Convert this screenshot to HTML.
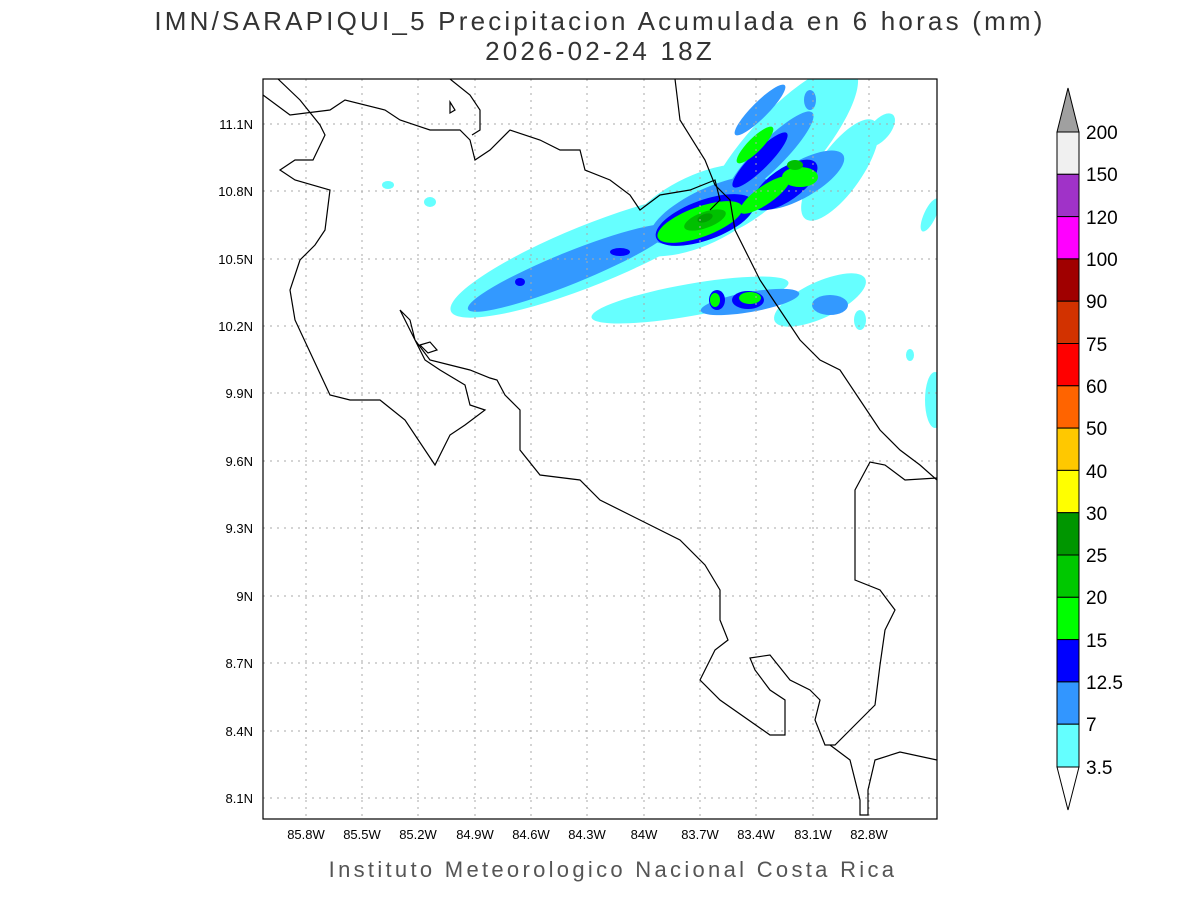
<!DOCTYPE html>
<html><head><meta charset="utf-8"><style>
body{margin:0;background:#fff;width:1200px;height:900px;overflow:hidden;font-family:"Liberation Sans",sans-serif}
</style></head><body>
<svg width="1200" height="900" xmlns="http://www.w3.org/2000/svg" font-family="Liberation Sans, sans-serif">
<rect width="1200" height="900" fill="#fff"/>
<text x="600" y="30" font-size="26" text-anchor="middle" fill="#333" letter-spacing="3.2">IMN/SARAPIQUI_5 Precipitacion Acumulada en 6 horas (mm)</text>
<text x="600" y="60" font-size="26" text-anchor="middle" fill="#333" letter-spacing="3.2">2026-02-24 18Z</text>
<defs><clipPath id="c"><rect x="263" y="79" width="674" height="740"/></clipPath></defs>
<g clip-path="url(#c)">
<g fill="#66ffff">
<ellipse cx="590" cy="255" rx="150" ry="30" transform="rotate(-22 590 255)"/>
<ellipse cx="700" cy="210" rx="80" ry="35" transform="rotate(-25 700 210)"/>
<ellipse cx="780" cy="150" rx="110" ry="35" transform="rotate(-48 780 150)"/>
<ellipse cx="840" cy="170" rx="60" ry="22" transform="rotate(-55 840 170)"/>
<ellipse cx="690" cy="300" rx="100" ry="16" transform="rotate(-10 690 300)"/>
<ellipse cx="820" cy="300" rx="50" ry="18" transform="rotate(-25 820 300)"/>
<ellipse cx="880" cy="130" rx="20" ry="10" transform="rotate(-50 880 130)"/>
<ellipse cx="930" cy="215" rx="18" ry="6" transform="rotate(-65 930 215)"/>
<ellipse cx="935" cy="400" rx="10" ry="28"/>
<ellipse cx="910" cy="355" rx="4" ry="6"/>
<ellipse cx="430" cy="202" rx="6" ry="5"/>
<ellipse cx="388" cy="185" rx="6" ry="4"/>
<ellipse cx="860" cy="320" rx="6" ry="10"/>
<ellipse cx="830" cy="100" rx="15" ry="8"/>
</g>
<g fill="#3399ff">
<ellipse cx="570" cy="268" rx="110" ry="16" transform="rotate(-22 570 268)"/>
<ellipse cx="710" cy="210" rx="65" ry="22" transform="rotate(-25 710 210)"/>
<ellipse cx="770" cy="155" rx="60" ry="14" transform="rotate(-45 770 155)"/>
<ellipse cx="800" cy="180" rx="50" ry="18" transform="rotate(-30 800 180)"/>
<ellipse cx="750" cy="302" rx="50" ry="10" transform="rotate(-10 750 302)"/>
<ellipse cx="760" cy="110" rx="35" ry="8" transform="rotate(-45 760 110)"/>
<ellipse cx="830" cy="305" rx="18" ry="10"/>
<ellipse cx="810" cy="100" rx="6" ry="10"/>
</g>
<g fill="#0000ff">
<ellipse cx="705" cy="220" rx="52" ry="20" transform="rotate(-20 705 220)"/>
<ellipse cx="760" cy="160" rx="38" ry="9" transform="rotate(-45 760 160)"/>
<ellipse cx="785" cy="185" rx="38" ry="16" transform="rotate(-35 785 185)"/>
<ellipse cx="717" cy="300" rx="8" ry="10"/>
<ellipse cx="748" cy="300" rx="16" ry="9"/>
<ellipse cx="520" cy="282" rx="5" ry="4"/>
<ellipse cx="620" cy="252" rx="10" ry="4"/>
</g>
<g fill="#00ff00">
<ellipse cx="700" cy="222" rx="45" ry="15" transform="rotate(-20 700 222)"/>
<ellipse cx="755" cy="145" rx="25" ry="7" transform="rotate(-45 755 145)"/>
<ellipse cx="765" cy="195" rx="30" ry="9" transform="rotate(-35 765 195)"/>
<ellipse cx="800" cy="177" rx="18" ry="10"/>
<ellipse cx="715" cy="300" rx="5" ry="7"/>
<ellipse cx="750" cy="298" rx="11" ry="6"/>
</g>
<g fill="#00c000"><ellipse cx="705" cy="220" rx="22" ry="8" transform="rotate(-20 705 220)"/><ellipse cx="795" cy="165" rx="8" ry="5"/></g>
<g fill="#00a000"><ellipse cx="705" cy="218" rx="8" ry="4" transform="rotate(-20 705 218)"/></g>
</g>
<g stroke="#aaa" stroke-width="1" stroke-dasharray="2,5">
<line x1="306" y1="79" x2="306" y2="819"/><line x1="362" y1="79" x2="362" y2="819"/><line x1="418" y1="79" x2="418" y2="819"/><line x1="475" y1="79" x2="475" y2="819"/><line x1="531" y1="79" x2="531" y2="819"/><line x1="587" y1="79" x2="587" y2="819"/><line x1="644" y1="79" x2="644" y2="819"/><line x1="700" y1="79" x2="700" y2="819"/><line x1="756" y1="79" x2="756" y2="819"/><line x1="813" y1="79" x2="813" y2="819"/><line x1="869" y1="79" x2="869" y2="819"/>
<line x1="263" y1="124" x2="937" y2="124"/><line x1="263" y1="191" x2="937" y2="191"/><line x1="263" y1="259" x2="937" y2="259"/><line x1="263" y1="326" x2="937" y2="326"/><line x1="263" y1="393" x2="937" y2="393"/><line x1="263" y1="461" x2="937" y2="461"/><line x1="263" y1="528" x2="937" y2="528"/><line x1="263" y1="596" x2="937" y2="596"/><line x1="263" y1="663" x2="937" y2="663"/><line x1="263" y1="731" x2="937" y2="731"/><line x1="263" y1="798" x2="937" y2="798"/>
</g>
<g fill="none" stroke="#000" stroke-width="1.2" clip-path="url(#c)">
<polyline points="278,79 300,100 320,125 325,135 313,160 295,160 280,170 295,180 330,190 325,230 315,245 300,260 290,290 295,320 330,395 350,400 380,400 405,420 435,465 450,435 465,425 485,410 470,405 465,385 440,370 425,360 410,330 400,310 410,320 415,340 430,360 450,365 470,370 490,378 497,380 505,395 520,410 520,450 540,475 580,480 600,500 630,515 680,540 705,565 720,590 720,620 728,640 715,650 700,680 720,700 770,735 785,735 785,700 770,690 755,670 750,658 770,655 790,680 810,690 820,700 815,720 825,745 835,745 860,720 875,705 880,665 885,630 895,610 880,590 855,580 855,490 870,462 885,465 905,480 937,478"/>
<polyline points="675,79 680,120 705,160 715,185 730,200 735,230 760,280 780,310 800,340 820,360 840,370 860,400 880,430 900,450 920,465 937,480"/>
<polyline points="263,95 290,115 330,110 345,100 385,110 400,120 430,130 460,130 470,140 475,160 490,150 510,130 540,140 560,150 580,150 585,170 610,180 630,195 640,210 660,195 690,190 715,180 720,200 710,210"/>
<polyline points="450,79 470,95 480,110 480,130 472,135"/>
<polygon points="450,102 455,110 450,113"/>
<polygon points="420,345 430,342 437,350 428,353"/>
<polyline points="830,745 850,760 860,800 860,815 868,815 868,790 875,760 900,752 937,760"/>
</g>
<rect x="263" y="79" width="674" height="740" fill="none" stroke="#000" stroke-width="1.2"/>
<g font-size="13" fill="#000" text-anchor="end">
<text x="253" y="129">11.1N</text><text x="253" y="196">10.8N</text><text x="253" y="264">10.5N</text><text x="253" y="331">10.2N</text><text x="253" y="398">9.9N</text><text x="253" y="466">9.6N</text><text x="253" y="533">9.3N</text><text x="253" y="601">9N</text><text x="253" y="668">8.7N</text><text x="253" y="736">8.4N</text><text x="253" y="803">8.1N</text>
</g>
<g font-size="13" fill="#000" text-anchor="middle">
<text x="306" y="839">85.8W</text><text x="362" y="839">85.5W</text><text x="418" y="839">85.2W</text><text x="475" y="839">84.9W</text><text x="531" y="839">84.6W</text><text x="587" y="839">84.3W</text><text x="644" y="839">84W</text><text x="700" y="839">83.7W</text><text x="756" y="839">83.4W</text><text x="813" y="839">83.1W</text><text x="869" y="839">82.8W</text>
</g>
<text x="613" y="877" font-size="22" text-anchor="middle" fill="#555" letter-spacing="3.3">Instituto Meteorologico Nacional Costa Rica</text>
<g stroke="#000" stroke-width="1">
<polygon points="1057,132 1079,132 1068,88" fill="#a0a0a0"/>
<rect x="1057" y="132" width="22" height="42.3" fill="#f0f0f0"/>
<rect x="1057" y="174.3" width="22" height="42.3" fill="#a032c8"/>
<rect x="1057" y="216.6" width="22" height="42.3" fill="#ff00ff"/>
<rect x="1057" y="258.9" width="22" height="42.3" fill="#a00000"/>
<rect x="1057" y="301.2" width="22" height="42.3" fill="#d23200"/>
<rect x="1057" y="343.5" width="22" height="42.3" fill="#ff0000"/>
<rect x="1057" y="385.8" width="22" height="42.3" fill="#ff6400"/>
<rect x="1057" y="428.1" width="22" height="42.3" fill="#ffc800"/>
<rect x="1057" y="470.4" width="22" height="42.3" fill="#ffff00"/>
<rect x="1057" y="512.7" width="22" height="42.3" fill="#009600"/>
<rect x="1057" y="555" width="22" height="42.3" fill="#00c800"/>
<rect x="1057" y="597.3" width="22" height="42.3" fill="#00ff00"/>
<rect x="1057" y="639.6" width="22" height="42.3" fill="#0000ff"/>
<rect x="1057" y="681.9" width="22" height="42.3" fill="#3296ff"/>
<rect x="1057" y="724.2" width="22" height="42.8" fill="#64ffff"/>
<polygon points="1057,767 1079,767 1068,810" fill="#fff"/>
</g>
<g font-size="19" fill="#000">
<text x="1086" y="139">200</text><text x="1086" y="181">150</text><text x="1086" y="224">120</text><text x="1086" y="266">100</text><text x="1086" y="308">90</text><text x="1086" y="351">75</text><text x="1086" y="393">60</text><text x="1086" y="435">50</text><text x="1086" y="478">40</text><text x="1086" y="520">30</text><text x="1086" y="562">25</text><text x="1086" y="604">20</text><text x="1086" y="647">15</text><text x="1086" y="689">12.5</text><text x="1086" y="731">7</text><text x="1086" y="774">3.5</text>
</g>
</svg>
</body></html>
